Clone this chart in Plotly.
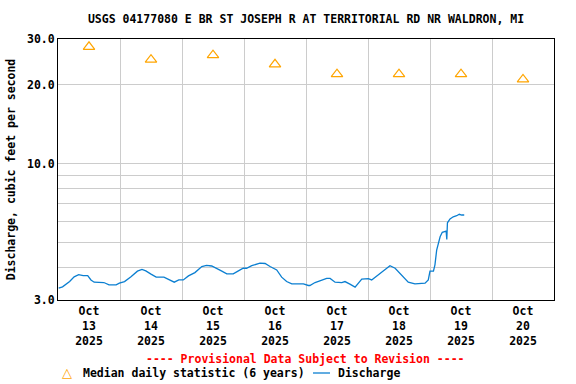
import plotly.graph_objects as go

# ---------------- data ----------------
median_dates = ["2025-10-13 12:00", "2025-10-14 12:00", "2025-10-15 12:00", "2025-10-16 12:00",
                "2025-10-17 12:00", "2025-10-18 12:00", "2025-10-19 12:00", "2025-10-20 12:00"]
median_values = [28.0, 25.0, 26.0, 24.0, 22.0, 22.0, 22.0, 21.0]

discharge_times = [
    "2025-10-13 00:15", "2025-10-13 01:45", "2025-10-13 04:30", "2025-10-13 06:15", "2025-10-13 08:00",
    "2025-10-13 09:45", "2025-10-13 11:30", "2025-10-13 12:45", "2025-10-13 14:00", "2025-10-13 16:00",
    "2025-10-13 17:45", "2025-10-13 19:45", "2025-10-13 22:30", "2025-10-13 23:45", "2025-10-14 01:45",
    "2025-10-14 04:15", "2025-10-14 06:45", "2025-10-14 08:30", "2025-10-14 10:00", "2025-10-14 12:00",
    "2025-10-14 14:00", "2025-10-14 17:00", "2025-10-14 19:00", "2025-10-14 21:00", "2025-10-14 22:45",
    "2025-10-15 00:30", "2025-10-15 02:30", "2025-10-15 05:00", "2025-10-15 07:40", "2025-10-15 09:30",
    "2025-10-15 11:30", "2025-10-15 13:25", "2025-10-15 15:25", "2025-10-15 17:20", "2025-10-15 19:50",
    "2025-10-15 21:50", "2025-10-15 23:40", "2025-10-16 01:00", "2025-10-16 03:00", "2025-10-16 06:10",
    "2025-10-16 08:10", "2025-10-16 10:05", "2025-10-16 12:40", "2025-10-16 14:35", "2025-10-16 16:30",
    "2025-10-16 18:30", "2025-10-16 23:00", "2025-10-17 00:55", "2025-10-17 01:30", "2025-10-17 03:30",
    "2025-10-17 06:05", "2025-10-17 08:00", "2025-10-17 09:20", "2025-10-17 11:15", "2025-10-17 13:50",
    "2025-10-17 15:05", "2025-10-17 17:00", "2025-10-17 19:00", "2025-10-17 21:35", "2025-10-18 00:10",
    "2025-10-18 01:25", "2025-10-18 03:20", "2025-10-18 06:35", "2025-10-18 08:30", "2025-10-18 10:30",
    "2025-10-18 13:00", "2025-10-18 15:35", "2025-10-18 18:10", "2025-10-18 20:10", "2025-10-18 22:05",
    "2025-10-18 23:20", "2025-10-19 00:00", "2025-10-19 01:20", "2025-10-19 01:55", "2025-10-19 02:35",
    "2025-10-19 03:15", "2025-10-19 03:55", "2025-10-19 04:45", "2025-10-19 05:50", "2025-10-19 06:15",
    "2025-10-19 06:30", "2025-10-19 06:45", "2025-10-19 07:45", "2025-10-19 09:00", "2025-10-19 10:20",
    "2025-10-19 11:20", "2025-10-19 12:15", "2025-10-19 13:15",
]
discharge_values = [
    3.33, 3.37, 3.53, 3.68, 3.75,
    3.72, 3.72, 3.58, 3.51, 3.50,
    3.50, 3.43, 3.43, 3.48, 3.53,
    3.68, 3.87, 3.93, 3.88, 3.77,
    3.67, 3.67, 3.58, 3.51, 3.58,
    3.58, 3.71, 3.82, 4.03, 4.07,
    4.05, 3.97, 3.87, 3.78, 3.78,
    3.88, 3.97, 3.97, 4.06, 4.15,
    4.14, 4.03, 3.91, 3.67, 3.53,
    3.46, 3.46, 3.41, 3.41, 3.50,
    3.56, 3.63, 3.63, 3.51, 3.50,
    3.53, 3.45, 3.36, 3.61, 3.62,
    3.58, 3.71, 3.93, 4.06, 3.97,
    3.74, 3.51, 3.46, 3.48, 3.48,
    3.58, 3.87, 3.87, 4.09, 4.66,
    5.02, 5.24, 5.45, 5.51, 5.51,
    5.12, 5.93, 6.13, 6.25, 6.31,
    6.39, 6.35, 6.35,
]

x_tick_vals = ["2025-10-13 12:00", "2025-10-14 12:00", "2025-10-15 12:00", "2025-10-16 12:00",
               "2025-10-17 12:00", "2025-10-18 12:00", "2025-10-19 12:00", "2025-10-20 12:00"]
x_tick_text = ["Oct<br>13<br>2025", "Oct<br>14<br>2025", "Oct<br>15<br>2025", "Oct<br>16<br>2025",
               "Oct<br>17<br>2025", "Oct<br>18<br>2025", "Oct<br>19<br>2025", "Oct<br>20<br>2025"]
x_grid_vals = ["2025-10-14", "2025-10-15", "2025-10-16", "2025-10-17",
               "2025-10-18", "2025-10-19", "2025-10-20"]
y_tick_vals = [3, 10, 20, 30]
y_tick_text = ["3.0", "10.0", "20.0", "30.0"]
y_grid_vals = [4, 5, 6, 7, 8, 9]

# ---------------- style ----------------
FONT = "DejaVu Sans Mono"
FS = 11.5
LINE_COLOR = "#0b7fd1"
MED_COLOR = "#ffa500"
W, H = 576, 384
L, R, T, B = 58, 22, 39, 84
pw, ph = W - L - R, H - T - B

def px_x(px):
    return (px - L) / pw

def px_y(py):
    return (H - B - py) / ph

fig = go.Figure()
fig.add_trace(go.Scatter(
    x=median_dates, y=median_values, mode="markers",
    marker=dict(symbol="triangle-up-open", size=10, color=MED_COLOR, line=dict(width=1.2, color=MED_COLOR)),
    name="Median daily statistic (6 years)", showlegend=False, hoverinfo="skip",
))
fig.add_trace(go.Scatter(
    x=discharge_times, y=discharge_values, mode="lines",
    line=dict(color=LINE_COLOR, width=1.3),
    name="Discharge", showlegend=False, hoverinfo="skip",
))

fig.update_layout(
    width=W, height=H,
    margin=dict(l=L, r=R, t=T, b=B, autoexpand=False),
    paper_bgcolor="white", plot_bgcolor="white",
    font=dict(family=FONT, size=FS, color="black", weight="bold"),
    title=dict(text="USGS 04177080 E BR ST JOSEPH R AT TERRITORIAL RD NR WALDRON, MI",
               x=0.5, xref="paper", xanchor="center", y=1 - 19 / H, yref="container", yanchor="middle",
               font=dict(family=FONT, size=FS, color="black", weight="bold")),
    showlegend=False,
)
fig.update_xaxes(
    type="date", range=["2025-10-13 00:00", "2025-10-21 00:00"], automargin=False,
    tickmode="array", tickvals=x_tick_vals, ticktext=x_tick_text,
    showgrid=False, ticks="", zeroline=False,
    showline=True, linecolor="black", linewidth=1, mirror=True,
    minor=dict(tickmode="array", tickvals=x_grid_vals, showgrid=True, gridcolor="#cccccc", gridwidth=1, ticks=""),
    tickfont=dict(family=FONT, size=FS, color="black", weight="bold"),
)
fig.update_yaxes(
    type="log", range=[0.47712125472, 1.47712125472], automargin=False,
    tickmode="array", tickvals=y_tick_vals, ticktext=y_tick_text,
    showgrid=True, gridcolor="#cccccc", gridwidth=1, ticks="", zeroline=False,
    showline=True, linecolor="black", linewidth=1, mirror=True,
    minor=dict(tickmode="array", tickvals=y_grid_vals, showgrid=True, gridcolor="#cccccc", gridwidth=1, ticks=""),
    tickfont=dict(family=FONT, size=FS, color="black", weight="bold"),
    title=dict(text="Discharge, cubic feet per second", standoff=8,
               font=dict(family=FONT, size=FS, color="black", weight="bold")),
)

# provisional note
fig.add_annotation(text="---- Provisional Data Subject to Revision ----", xref="paper", yref="paper",
                   x=px_x(305.5), y=px_y(359), xanchor="center", yanchor="middle", showarrow=False,
                   font=dict(family=FONT, size=FS, color="#ff0000", weight="bold"))
# legend (drawn as key entries)
fig.add_annotation(text="△", xref="paper", yref="paper", x=px_x(67), y=px_y(372), xanchor="center",
                   yanchor="middle", showarrow=False, font=dict(family="DejaVu Sans", size=13, color=MED_COLOR))
fig.add_annotation(text="Median daily statistic (6 years)", xref="paper", yref="paper", x=px_x(81),
                   y=px_y(373), xanchor="left", yanchor="middle", showarrow=False,
                   font=dict(family=FONT, size=FS, color="black", weight="bold"))
fig.add_shape(type="line", xref="paper", yref="paper", x0=px_x(313), x1=px_x(330), y0=px_y(373), y1=px_y(373),
              line=dict(color=LINE_COLOR, width=1.3))
fig.add_annotation(text="Discharge", xref="paper", yref="paper", x=px_x(336), y=px_y(373), xanchor="left",
                   yanchor="middle", showarrow=False, font=dict(family=FONT, size=FS, color="black", weight="bold"))

fig.write_html("out.html", config={"displayModeBar": False},
               post_script="document.body.style.margin='0';document.body.style.overflow='hidden';")
